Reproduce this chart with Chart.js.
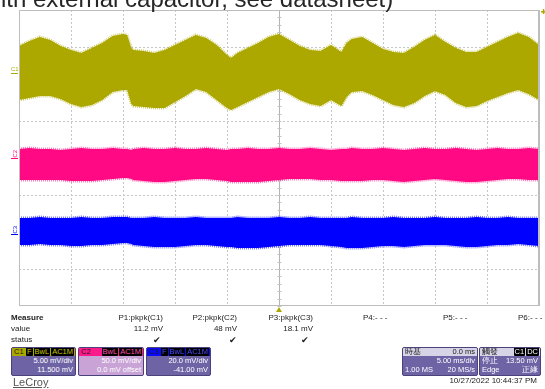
<!DOCTYPE html>
<html>
<head>
<meta charset="utf-8">
<script src="https://cdn.jsdelivr.net/npm/chart.js@4.4.0/dist/chart.umd.min.js"></script>
<style>
  body { margin:0; width:545px; height:389px; overflow:hidden; background:#fff; position:relative;
         font-family:"Liberation Sans", Arial, sans-serif; }
  canvas { position:absolute; left:0; top:0; }
  .title { position:absolute; left:1px; top:-13px; font-size:24px; line-height:24px; color:#262626; white-space:nowrap; }
  .t { position:absolute; font-size:8px; line-height:10px; color:#222; white-space:nowrap; }
  .r { text-align:right; }
  .chk { font-size:9px; }
  .box { position:absolute; top:347px; height:29px; border-radius:2px; border:1px solid #4a427a;
         box-sizing:border-box; overflow:hidden; font-size:7.5px; color:#fff; background:#6d63a5; }
  .hd { height:8px; line-height:8px; padding:0 2px; position:relative; color:#1a1a1a; }
  .tags { position:absolute; right:1px; top:0; }
  .tags b { background:#000; font-weight:normal; margin-left:1px; padding:0 1px; border-radius:1px; }
  .ln { line-height:9px; padding:0 2px; position:relative; height:9px; }
  .ln .rt { position:absolute; right:2px; top:0; }
  .logo { position:absolute; left:13px; top:376px; font-size:11px; line-height:12px; color:#555; text-decoration:underline; }
</style>
</head>
<body>
<canvas id="scope" width="545" height="389"></canvas>

<div class="title">ith external capacitor, see datasheet)</div>

<div class="t" style="left:11px;top:313px;font-weight:bold">Measure</div>
<div class="t" style="left:11px;top:324px">value</div>
<div class="t" style="left:11px;top:335px">status</div>

<div class="t r" style="right:382px;top:313px">P1:pkpk(C1)</div>
<div class="t r" style="right:308px;top:313px">P2:pkpk(C2)</div>
<div class="t r" style="right:232px;top:313px">P3:pkpk(C3)</div>
<div class="t" style="left:363px;top:313px">P4:- - -</div>
<div class="t" style="left:443px;top:313px">P5:- - -</div>
<div class="t" style="left:518px;top:313px">P6:- - -</div>

<div class="t r" style="right:382px;top:324px">11.2 mV</div>
<div class="t r" style="right:308px;top:324px">48 mV</div>
<div class="t r" style="right:232px;top:324px">18.1 mV</div>

<div class="t r chk" style="right:384px;top:335px">✔</div>
<div class="t r chk" style="right:308px;top:335px">✔</div>
<div class="t r chk" style="right:236px;top:335px">✔</div>

<div class="box" style="left:11px;width:65px">
  <div class="hd" style="background:#aca800">C1<span class="tags" style="color:#c8c400"><b>F</b><b>BwL</b><b>AC1M</b></span></div>
  <div class="ln"><span class="rt">5.00 mV/div</span></div>
  <div class="ln"><span class="rt">11.500 mV</span></div>
</div>
<div class="box" style="left:78px;width:66px;background:#c9a2d6">
  <div class="hd" style="background:#ff1a8c">C2<span class="tags" style="color:#ff4da6"><b>BwL</b><b>AC1M</b></span></div>
  <div class="ln"><span class="rt">50.0 mV/div</span></div>
  <div class="ln"><span class="rt">0.0 mV offset</span></div>
</div>
<div class="box" style="left:146px;width:65px">
  <div class="hd" style="background:#0a0aff">C3<span class="tags" style="color:#4a4aff"><b>F</b><b>BwL</b><b>AC1M</b></span></div>
  <div class="ln"><span class="rt">20.0 mV/div</span></div>
  <div class="ln"><span class="rt">-41.00 mV</span></div>
</div>

<div class="box" style="left:402px;width:76px">
  <div class="hd" style="background:#d6d4e6">時基<span class="rt" style="position:absolute;right:2px">0.0 ms</span></div>
  <div class="ln"><span class="rt">5.00 ms/div</span></div>
  <div class="ln">1.00 MS<span class="rt">20 MS/s</span></div>
</div>
<div class="box" style="left:479px;width:62px">
  <div class="hd" style="background:#d6d4e6">觸發<span class="tags" style="color:#fff"><b>C1</b><b>DC</b></span></div>
  <div class="ln">停止<span class="rt">13.50 mV</span></div>
  <div class="ln">Edge<span class="rt">正緣</span></div>
</div>

<div class="logo">LeCroy</div>
<div class="t r" style="right:8px;top:376px">10/27/2022 10:44:37 PM</div>

<script>
// Zeitachse in ms (5 ms/div, 10 div)
const times = [-25,-24,-23,-22,-21,-20,-19,-18,-17,-16,-15,-14.6,-14.2,-14,-13,-12,-11,-10,-9,-8,-7,-6,-5,-4.6,-4,-3,-2,-1,
               0,1,2,3,4,5,6,6.5,7,8,9,10,11,12,13,14,15,16,17,18,19,20,21,22,23,24,25];

// C1 in mV (Huellkurve oben / unten)
const c1Top = [3.64,4.31,4.85,4.45,3.64,3.09,2.69,3.36,4.04,4.99,5.26,5.12,3.36,3.09,2.96,2.69,3.09,3.77,4.45,5.12,4.72,3.77,2.42,2.01,2.69,3.36,4.04,4.85,
               5.26,4.45,3.64,3.09,2.96,3.77,2.82,4.04,4.58,4.85,4.04,3.23,2.82,2.69,3.50,4.45,5.12,4.18,3.36,2.82,2.82,3.50,4.18,4.85,5.39,4.85,3.77];
const c1Bot = [-3.66,-3.39,-3.12,-3.12,-3.53,-4.20,-4.61,-4.34,-3.66,-2.58,-2.31,-2.31,-4.20,-4.47,-4.61,-4.74,-4.74,-3.93,-3.12,-2.18,-2.58,-3.66,-4.74,-5.01,-4.61,-3.93,-3.26,-2.58,
               -2.18,-2.85,-3.66,-4.20,-4.47,-3.66,-4.47,-3.26,-2.58,-2.45,-2.99,-3.66,-4.34,-4.61,-4.07,-3.12,-2.45,-2.99,-4.07,-4.61,-4.47,-3.80,-3.26,-2.72,-2.31,-2.85,-3.66];

// C2 in mV
const c2Top = [12.2,13.5,12.2,12.2,10.8,12.2,13.5,12.2,12.2,13.5,12.2,12.2,10.8,12.2,13.5,12.2,12.2,13.5,12.2,12.2,13.5,12.2,10.8,12.2,12.2,13.5,12.2,12.2,
               13.5,12.2,12.2,13.5,12.2,10.8,12.2,12.2,13.5,12.2,12.2,13.5,12.2,10.8,12.2,13.5,12.2,12.2,13.5,12.2,10.8,12.2,13.5,12.2,12.2,13.5,12.2];
const c2Bot = [-29.7,-29.7,-29.7,-29.7,-29.7,-31.1,-31.1,-31.1,-29.7,-28.4,-27.0,-27.0,-28.4,-29.7,-31.1,-32.4,-32.4,-31.1,-29.7,-28.4,-28.4,-29.7,-31.1,-32.4,-32.4,-32.4,-32.4,-31.1,
               -29.7,-28.4,-28.4,-28.4,-29.7,-29.7,-31.1,-31.1,-31.1,-31.1,-29.7,-29.7,-31.1,-32.4,-31.1,-29.7,-28.4,-29.7,-31.1,-32.4,-32.4,-31.1,-29.7,-28.4,-28.4,-29.7,-29.7];

// C3 in mV
const c3Top = [8.6,8.6,9.1,8.6,8.6,8.6,9.1,8.6,8.6,9.1,9.1,9.1,8.6,8.6,8.6,9.1,8.6,8.6,8.6,9.1,8.6,8.6,8.6,8.6,9.1,8.6,8.6,8.6,
               9.1,8.6,8.6,9.1,8.6,8.6,8.6,8.6,9.1,8.6,8.6,8.6,9.1,8.6,8.6,8.6,9.1,8.6,8.6,8.6,9.1,8.6,8.6,9.1,8.6,8.6,8.6];
const c3Bot = [-6.0,-6.0,-5.5,-6.0,-6.0,-6.6,-6.6,-6.0,-6.0,-5.5,-5.0,-5.0,-5.5,-6.0,-6.6,-7.1,-7.1,-7.1,-6.6,-6.0,-6.0,-6.6,-7.1,-7.1,-7.6,-7.6,-7.6,-7.1,
               -6.6,-6.0,-6.0,-6.0,-6.0,-6.6,-7.1,-7.6,-7.6,-7.6,-7.1,-6.6,-6.6,-7.1,-6.6,-6.0,-6.0,-6.0,-6.6,-7.1,-7.1,-6.6,-6.0,-6.0,-5.5,-6.0,-6.6];

// Kanal-Einstellungen: mV/div und Offset
const channels = [
  { name: 'C1', top: c1Top, bot: c1Bot, scale: 5,  offset: 11.5, color: '#aca800', fuzz: 'rgba(172,168,0,0.55)' },
  { name: 'C2', top: c2Top, bot: c2Bot, scale: 50, offset: 0,    color: '#ff0a84', fuzz: 'rgba(255,10,132,0.55)' },
  { name: 'C3', top: c3Top, bot: c3Bot, scale: 20, offset: -41,  color: '#0000ff', fuzz: 'rgba(0,0,255,0.55)' }
];

const xGrid = [-20,-15,-10,-5,0,5,10,15,20];
const yGrid = [-3,-2,-1,0,1,2,3];

function toDiv(v, ch) { return (v + ch.offset) / ch.scale; }

const datasets = [];
channels.forEach(ch => {
  datasets.push({
    label: ch.name + ' min',
    data: times.map((t, i) => ({ x: t, y: toDiv(ch.bot[i], ch) })),
    borderColor: ch.fuzz, borderWidth: 3, borderDash: [1, 1], pointRadius: 0, fill: false
  });
  datasets.push({
    label: ch.name + ' max',
    data: times.map((t, i) => ({ x: t, y: toDiv(ch.top[i], ch) })),
    borderColor: ch.fuzz, backgroundColor: ch.color, borderWidth: 3, borderDash: [1, 1], pointRadius: 0, fill: '-1'
  });
});

// Raster, Mittelachsen, Rahmen und Marker
const scopeGrid = {
  id: 'scopeGrid',
  beforeDatasetsDraw(chart) {
    const { ctx, chartArea: a, scales: { x, y } } = chart;
    ctx.save();
    ctx.strokeStyle = '#c6c6c6';
    ctx.lineWidth = 1;
    ctx.setLineDash([2, 2]);
    xGrid.forEach(t => {
      if (t === 0) return;
      const px = Math.round(x.getPixelForValue(t)) + 0.5;
      ctx.beginPath(); ctx.moveTo(px, a.top); ctx.lineTo(px, a.bottom); ctx.stroke();
    });
    yGrid.forEach(d => {
      const py = Math.round(y.getPixelForValue(d)) + 0.5;
      ctx.beginPath(); ctx.moveTo(a.left, py); ctx.lineTo(a.right, py); ctx.stroke();
    });
    ctx.setLineDash([]);
    ctx.strokeStyle = '#b4b4b4';
    const cx = Math.round(x.getPixelForValue(0)) + 0.5;
    ctx.beginPath(); ctx.moveTo(cx, a.top); ctx.lineTo(cx, a.bottom); ctx.stroke();
    ctx.strokeStyle = '#c2c2c2';
    for (let d = -4; d <= 4; d += 0.2) {
      const py = Math.round(y.getPixelForValue(d)) + 0.5;
      ctx.beginPath(); ctx.moveTo(cx - 2, py); ctx.lineTo(cx + 2, py); ctx.stroke();
    }
    ctx.restore();
  },
  afterDatasetsDraw(chart) {
    const { ctx, chartArea: a, scales: { x, y } } = chart;
    ctx.save();
    ctx.strokeStyle = '#bdbdbd';
    ctx.lineWidth = 1;
    ctx.strokeRect(a.left + 0.5, a.top + 0.5, a.right - a.left - 1, a.bottom - a.top - 1);
    ctx.beginPath(); ctx.moveTo(a.right + 0.5, a.top); ctx.lineTo(a.right + 0.5, a.bottom); ctx.stroke();

    // Kanal-Nullmarker links
    ctx.font = '6px "Liberation Sans", Arial, sans-serif';
    channels.forEach((ch, i) => {
      const py = Math.round(y.getPixelForValue(toDiv(0, ch))) + 0.5;
      ctx.strokeStyle = ch.color; ctx.fillStyle = ch.color;
      ctx.beginPath(); ctx.moveTo(11, py); ctx.lineTo(18, py); ctx.stroke();
      if (i === 0) {
        ctx.fillText(ch.name, 11, py - 3);
      } else {
        ctx.save();
        ctx.translate(17, py - 1);
        ctx.rotate(-Math.PI / 2);
        ctx.fillText(ch.name, 0, 0);
        ctx.restore();
      }
    });

    // Trigger-Zeit und Trigger-Pegel
    const c1 = channels[0];
    const tx = x.getPixelForValue(0);
    ctx.fillStyle = c1.color;
    ctx.beginPath(); ctx.moveTo(tx, a.bottom + 1); ctx.lineTo(tx - 3, a.bottom + 6); ctx.lineTo(tx + 3, a.bottom + 6); ctx.closePath(); ctx.fill();
    const ly = Math.max(a.top, y.getPixelForValue(toDiv(13.5, c1)));
    ctx.fillRect(a.right + 2, ly + 1, 5, 1.5);
    ctx.fillRect(a.right + 3.8, ly - 1, 1.5, 5);
    ctx.restore();
  }
};

new Chart(document.getElementById('scope').getContext('2d'), {
  type: 'line',
  data: { datasets },
  options: {
    responsive: false,
    animation: false,
    devicePixelRatio: 1,
    layout: { padding: { left: 19, top: 10, right: 6, bottom: 83 } },
    scales: {
      x: { type: 'linear', min: -25, max: 25, display: false },
      y: { type: 'linear', min: -4, max: 4, display: false }
    },
    elements: { line: { tension: 0 } },
    plugins: { legend: { display: false }, tooltip: { enabled: false } }
  },
  plugins: [scopeGrid]
});
</script>
</body>
</html>
